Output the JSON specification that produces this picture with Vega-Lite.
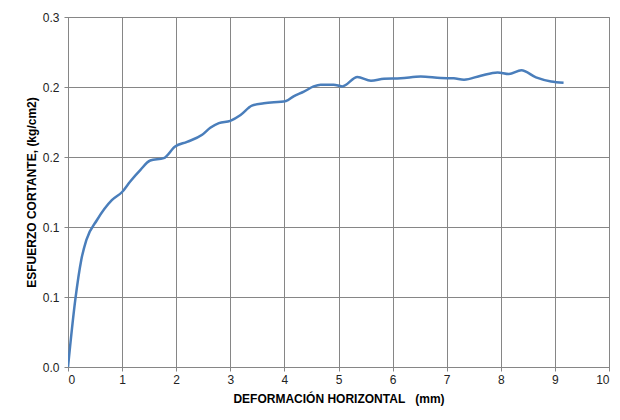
{
  "$schema": "https://vega.github.io/schema/vega-lite/v6.json",
  "autosize": "none",
  "width": 541,
  "height": 350,
  "padding": {"left": 68, "top": 17, "right": 11, "bottom": 53},
  "background": "white",
  "config": {
    "view": {"stroke": "#868686", "strokeWidth": 1},
    "font": "Liberation Sans",
    "axis": {
      "gridColor": "#868686", "gridWidth": 1, "gridOpacity": 1,
      "domainColor": "#868686", "tickColor": "#868686", "tickSize": 4,
      "labelFont": "Liberation Sans", "labelFontSize": 12, "labelColor": "#222222",
      "titleFont": "Liberation Sans", "titleFontSize": 12, "titleFontWeight": "bold", "titleColor": "#000000"
    }
  },
  "data": {"values": [
    {"x": 0, "y": 0},
    {"x": 0.135, "y": 0.0577},
    {"x": 0.246, "y": 0.092},
    {"x": 0.34, "y": 0.109},
    {"x": 0.536, "y": 0.126},
    {"x": 0.81, "y": 0.143},
    {"x": 1.0, "y": 0.150},
    {"x": 1.15, "y": 0.159},
    {"x": 1.34, "y": 0.169},
    {"x": 1.52, "y": 0.177},
    {"x": 1.77, "y": 0.179},
    {"x": 1.98, "y": 0.189},
    {"x": 2.2, "y": 0.193},
    {"x": 2.48, "y": 0.199},
    {"x": 2.63, "y": 0.205},
    {"x": 2.79, "y": 0.209},
    {"x": 3.0, "y": 0.211},
    {"x": 3.19, "y": 0.216},
    {"x": 3.4, "y": 0.224},
    {"x": 3.62, "y": 0.226},
    {"x": 4.03, "y": 0.228},
    {"x": 4.17, "y": 0.232},
    {"x": 4.36, "y": 0.236},
    {"x": 4.54, "y": 0.2405},
    {"x": 4.67, "y": 0.242},
    {"x": 4.91, "y": 0.242},
    {"x": 5.07, "y": 0.2405},
    {"x": 5.35, "y": 0.2486},
    {"x": 5.6, "y": 0.2454},
    {"x": 5.84, "y": 0.247},
    {"x": 6.15, "y": 0.2474},
    {"x": 6.52, "y": 0.249},
    {"x": 6.89, "y": 0.2477},
    {"x": 7.13, "y": 0.2474},
    {"x": 7.32, "y": 0.2463},
    {"x": 7.63, "y": 0.2497},
    {"x": 7.94, "y": 0.2525},
    {"x": 8.15, "y": 0.2511},
    {"x": 8.38, "y": 0.2543},
    {"x": 8.65, "y": 0.2483},
    {"x": 8.93, "y": 0.2448},
    {"x": 9.16, "y": 0.2437}
  ]},
  "mark": {"type": "line", "color": "#4a7ebb", "strokeWidth": 2.5, "interpolate": "monotone", "clip": true},
  "encoding": {
    "x": {
      "field": "x", "type": "quantitative",
      "scale": {"domain": [0, 10], "nice": false},
      "axis": {"values": [0,1,2,3,4,5,6,7,8,9,10], "format": "d", "title": "DEFORMACIÓN HORIZONTAL\u00a0\u00a0\u00a0(mm)", "labelPadding": 3, "titlePadding": 8}
    },
    "y": {
      "field": "y", "type": "quantitative",
      "scale": {"domain": [0, 0.3], "nice": false, "zero": true},
      "axis": {"values": [0, 0.06, 0.12, 0.18, 0.24, 0.3], "format": ".1f", "title": "ESFUERZO CORTANTE, (kg/cm2)", "labelPadding": 5, "titlePadding": 4}
    }
  }
}
